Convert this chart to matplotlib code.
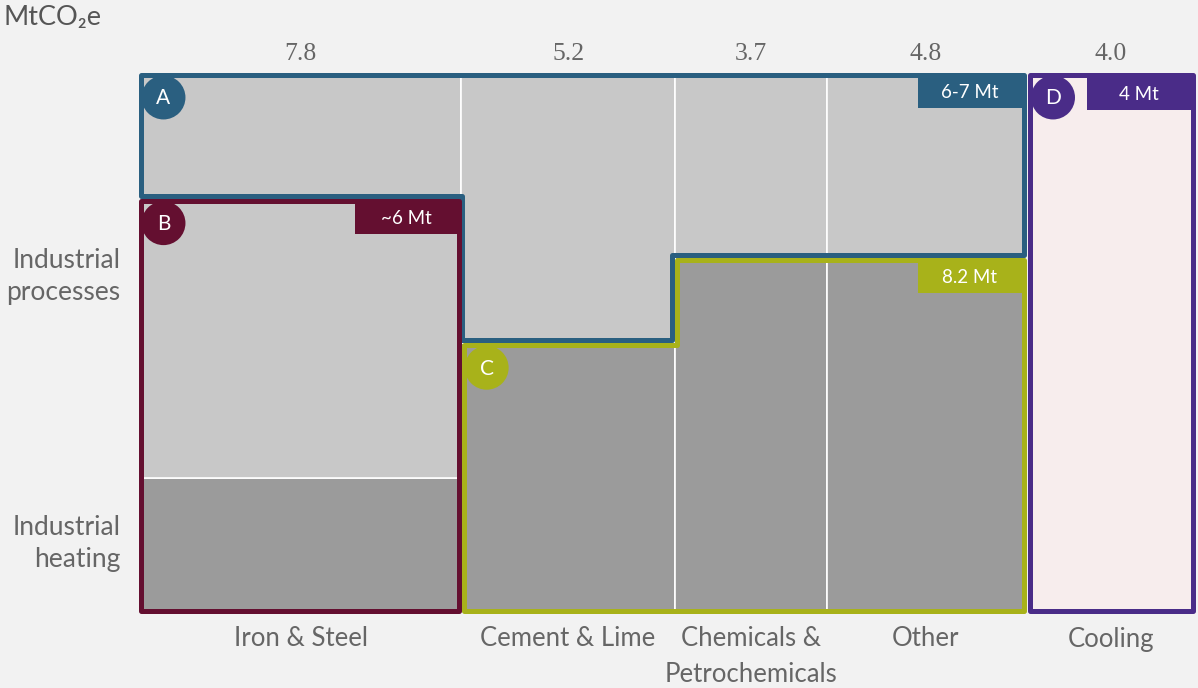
import numpy as np
import matplotlib
matplotlib.use("Agg")
import matplotlib.pyplot as plt
from matplotlib.patches import Polygon, Rectangle

# data
sectors = ["Iron & Steel", "Cement & Lime", "Chemicals &\nPetrochemicals", "Other"]
emissions = [7.8, 5.2, 3.7, 4.8]          # MtCO2e, column widths
heating_share = [0.247, 0.50, 0.66, 0.66]  # share of industrial heating
cooling_label = "Cooling"
cooling_value = 4.0
a_floor_iron = 0.77                        # split of iron & steel between A and B
badges = {"A": "6-7 Mt", "B": "~6 Mt", "C": "8.2 Mt", "D": "4 Mt"}

# colours
bg = "#f2f2f2"
light = "#c8c8c8"
dark = "#9b9b9b"
pink = "#f7eded"
txt = "#666666"
col = {"A": "#2a5f80", "B": "#640f30", "C": "#a8b21a", "D": "#4a2c88"}

W, H = 1198, 688
left_px, right_px, top_px, bot_px = 140.5, 1193, 75, 610.5
gap = 0.1

plt.rcParams["font.family"] = ["Lato", "DejaVu Sans"]

fig = plt.figure(figsize=(W / 100, H / 100), dpi=100, facecolor=bg)
ax = fig.add_axes([left_px / W, 1 - bot_px / H, (right_px - left_px) / W, (bot_px - top_px) / H])
ax.set_facecolor(bg)
ax.axis("off")

emissions = np.array(emissions)
heating_share = np.array(heating_share)
lefts = np.concatenate([[0], np.cumsum(emissions)[:-1]])
x_end = emissions.sum()
x_cool = x_end + gap
total = x_cool + cooling_value
ax.set_xlim(0, total)
ax.set_ylim(0, 1)

sx = (right_px - left_px) / total
sy = bot_px - top_px
def dx(p):
    return p / sx
def dy(p):
    return p / sy

# base columns
ax.bar(lefts, heating_share, width=emissions, align="edge", color=dark,
       edgecolor="white", linewidth=1.2, zorder=1)
ax.bar(lefts, 1 - heating_share, bottom=heating_share, width=emissions, align="edge",
       color=light, edgecolor="white", linewidth=1.2, zorder=1)
ax.bar([x_cool], [1], width=cooling_value, align="edge", color=pink, zorder=1)

x1, x2, x3 = lefts[1], lefts[2], lefts[3]
h_cem, h_chem = heating_share[1], heating_share[2]
o = 2.5
lw = 3.6

shapes = {
    "A": [(0, 1), (x_end, 1), (x_end, h_chem + dy(o)), (x2 - dx(o), h_chem + dy(o)),
          (x2 - dx(o), h_cem + dy(o)), (x1 + dx(0.5), h_cem + dy(o)),
          (x1 + dx(0.5), a_floor_iron + dy(o)), (0, a_floor_iron + dy(o))],
    "B": [(0, 0), (x1 - dx(o), 0), (x1 - dx(o), a_floor_iron - dy(o)),
          (0, a_floor_iron - dy(o))],
    "C": [(x1 + dx(o), 0), (x1 + dx(o), h_cem - dy(o)), (x2 + dx(o), h_cem - dy(o)),
          (x2 + dx(o), h_chem - dy(o)), (x_end, h_chem - dy(o)), (x_end, 0)],
    "D": [(x_cool + dx(1.5), 0), (x_cool + dx(1.5), 1), (total, 1), (total, 0)],
}
for k, pts in shapes.items():
    ax.add_patch(Polygon(pts, closed=True, fill=False, edgecolor=col[k], linewidth=lw,
                         joinstyle="round", zorder=4, clip_on=False))

# badges (top-right corner) and letter circles (top-left corner)
corners = {
    "A": ((0, 1), (x_end - dx(o), 1)),
    "B": ((0, a_floor_iron - dy(o)), (x1 - dx(o), a_floor_iron - dy(o))),
    "C": ((x1 + dx(o), h_cem - dy(o)), (x_end - dx(o), h_chem - dy(o))),
    "D": ((x_cool + dx(1.5), 1), (total - dx(o), 1 - dy(2))),
}
bw, bh = 104, 33
for k, (tl, tr) in corners.items():
    ax.add_patch(Rectangle((tr[0] - dx(bw), tr[1] - dy(bh)), dx(bw), dy(bh),
                           facecolor=col[k], edgecolor="none", zorder=3, clip_on=False))
    ax.text(tr[0] - dx(bw / 2), tr[1] - dy(bh / 2 + 1), badges[k], color="white",
            fontsize=13.5, ha="center", va="center", zorder=6)
    cx, cy = tl[0] + dx(23), tl[1] - dy(22.5)
    ax.scatter([cx], [cy], s=1000, color=col[k], edgecolors="none", zorder=5, clip_on=False)
    ax.text(cx, cy - dy(1), k, color="white", fontsize=15, ha="center", va="center", zorder=6)

# column values on top
centers = list(lefts + emissions / 2) + [x_cool + cooling_value / 2]
values = list(emissions) + [cooling_value]
for c, v in zip(centers, values):
    ax.text(c, 1 + dy(10), f"{v:.1f}", color=txt, fontsize=18.5, ha="center", va="bottom",
            family="Liberation Serif")

# category labels
for c, lab in zip(centers, sectors + [cooling_label]):
    ax.text(c, -dy(16), lab, color=txt, fontsize=18.5, ha="center", va="top",
            linespacing=1.5)

# row labels
ax.text(-dx(20), 0.623, "Industrial\nprocesses", color=txt, fontsize=19, ha="right",
        va="center", linespacing=1.35)
ax.text(-dx(20), 0.126, "Industrial\nheating", color=txt, fontsize=19, ha="right",
        va="center", linespacing=1.35)

fig.text(3 / W, 1 - 18 / H, "MtCO\u2082e", color="#555555", fontsize=19.5, ha="left",
         va="center")

fig.savefig("out.png", dpi=100, facecolor=bg)
